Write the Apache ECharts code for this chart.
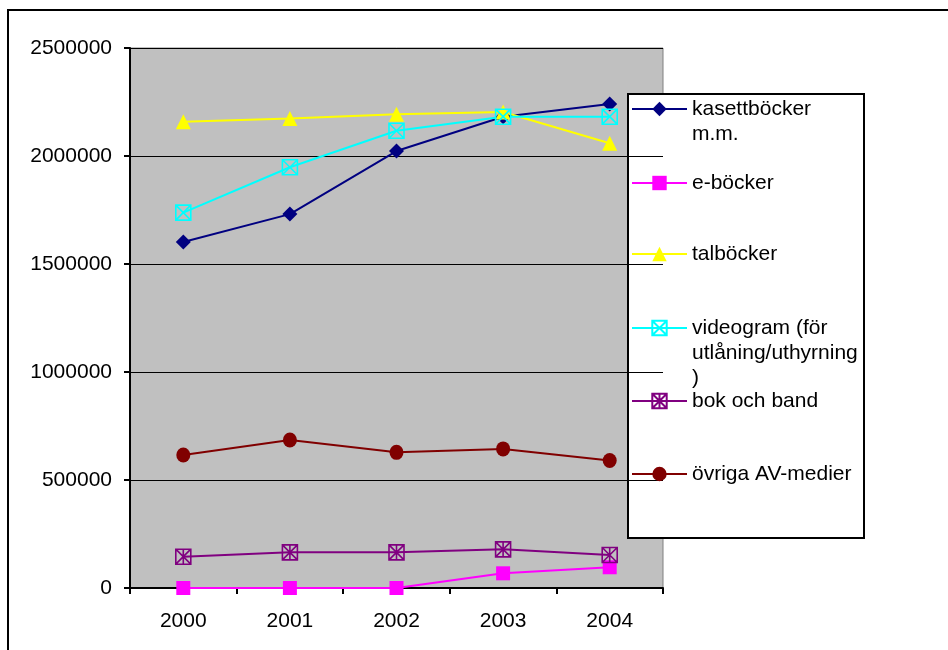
<!DOCTYPE html>
<html>
<head>
<meta charset="utf-8">
<script src="https://cdn.jsdelivr.net/npm/echarts@6/dist/echarts.min.js"></script>
<style>
  html, body { margin: 0; padding: 0; background: #fff; }
  #main { width: 948px; height: 650px; }
</style>
</head>
<body>
<div id="main"></div>
<script>
// data
const years = ["2000", "2001", "2002", "2003", "2004"];
const kasettbocker = [1602000, 1731000, 2023000, 2182000, 2241000];
const ebocker = [0, 0, 0, 68000, 96000];
const talbocker = [2159000, 2174000, 2193000, 2204000, 2059000];
const videogram = [1738000, 1948000, 2117000, 2182000, 2182000];
const bokOchBand = [145000, 165000, 165000, 179000, 153000];
const ovrigaAV = [616000, 685000, 628000, 644000, 590000];

const yTicks = [0, 500000, 1000000, 1500000, 2000000, 2500000];

const seriesNames = [
  "kasettböcker m.m.",
  "e-böcker",
  "talböcker",
  "videogram (för utlåning/uthyrning )",
  "bok och band",
  "övriga AV-medier",
];
// legend text as wrapped in the picture
const legendLines = [
  ["kasettböcker", "m.m."],
  ["e-böcker"],
  ["talböcker"],
  ["videogram (för", "utlåning/uthyrning", ")"],
  ["bok och band"],
  ["övriga AV-medier"],
];

const FONT = "'Liberation Sans', Arial, sans-serif";
const boxX = "path://M0,0H10V10H0Z M0,0L10,10 M10,0L0,10";
const boxStar = "path://M0,0H10V10H0Z M0,0L10,10 M10,0L0,10 M5,0V10";

const chart = echarts.init(document.getElementById("main"));

function lineSeries(name, data, color, symbol, size, fill) {
  return {
    name: name,
    type: "line",
    data: data,
    symbol: symbol,
    symbolSize: size,
    showAllSymbol: true,
    lineStyle: { color: color, width: 2 },
    itemStyle: fill
      ? { color: color, borderWidth: 0 }
      : { color: "rgba(0,0,0,0)", borderColor: color, borderWidth: 1.6 },
    emphasis: { disabled: true },
    z: 3,
  };
}

// one legend block per item, so each can sit where the picture has it
const LH = 25;
const iconCenters = [109, 183, 254, 328, 401, 474];
const legends = seriesNames.map((name, i) => {
  const lines = legendLines[i];
  const n = lines.length;
  const textHeight = (2 * n - 1) * LH;
  return {
    show: true,
    left: 631,
    top: iconCenters[i] - textHeight / 2,
    padding: 0,
    itemWidth: 55,
    itemHeight: 18,
    itemGap: 0,
    selectedMode: false,
    data: [name],
    formatter: () => "\n".repeat(n - 1) + lines.join("\n"),
    textStyle: { color: "#000", fontSize: 21, lineHeight: LH, fontFamily: FONT },
  };
});

const option = {
  animation: false,
  backgroundColor: "#fff",
  textStyle: { fontFamily: FONT },
  grid: {
    left: 130,
    right: 285,
    top: 48,
    bottom: 62,
    show: true,
    backgroundColor: "#c0c0c0",
    borderColor: "#808080",
    borderWidth: 1,
  },
  legend: legends,
  xAxis: {
    type: "category",
    data: years,
    boundaryGap: true,
    axisLine: { show: true, lineStyle: { color: "#000", width: 2 } },
    axisTick: { show: true, length: 6, lineStyle: { color: "#000", width: 2 } },
    axisLabel: { color: "#000", fontSize: 21, margin: 23, fontFamily: FONT },
    splitLine: { show: false },
  },
  yAxis: {
    type: "value",
    min: yTicks[0],
    max: yTicks[yTicks.length - 1],
    interval: yTicks[1] - yTicks[0],
    axisLine: { show: true, lineStyle: { color: "#000", width: 2 } },
    axisTick: { show: true, length: 6, lineStyle: { color: "#000", width: 2 } },
    axisLabel: {
      color: "#000",
      fontSize: 21,
      margin: 18,
      fontFamily: FONT,
      formatter: (v) => String(v),
    },
    splitLine: { show: true, lineStyle: { color: "#000", width: 1.2 } },
  },
  graphic: [
    {
      type: "rect",
      shape: { x: 8, y: 10, width: 1000, height: 700 },
      style: { fill: "none", stroke: "#000", lineWidth: 2 },
      silent: true,
      z: 0,
    },
    {
      type: "rect",
      shape: { x: 628, y: 94, width: 236, height: 444 },
      style: { fill: "#fff", stroke: "#000", lineWidth: 2 },
      silent: true,
      z: 0,
    },
  ],
  series: [
    lineSeries(seriesNames[0], kasettbocker, "#000080", "diamond", 15, true),
    lineSeries(seriesNames[1], ebocker, "#ff00ff", "rect", 14, true),
    lineSeries(seriesNames[2], talbocker, "#ffff00", "triangle", 15, true),
    lineSeries(seriesNames[3], videogram, "#00ffff", boxX, 15, false),
    lineSeries(seriesNames[4], bokOchBand, "#800080", boxStar, 15, false),
    lineSeries(seriesNames[5], ovrigaAV, "#800000", "circle", [14, 15], true),
  ],
};

chart.setOption(option);
</script>
</body>
</html>
